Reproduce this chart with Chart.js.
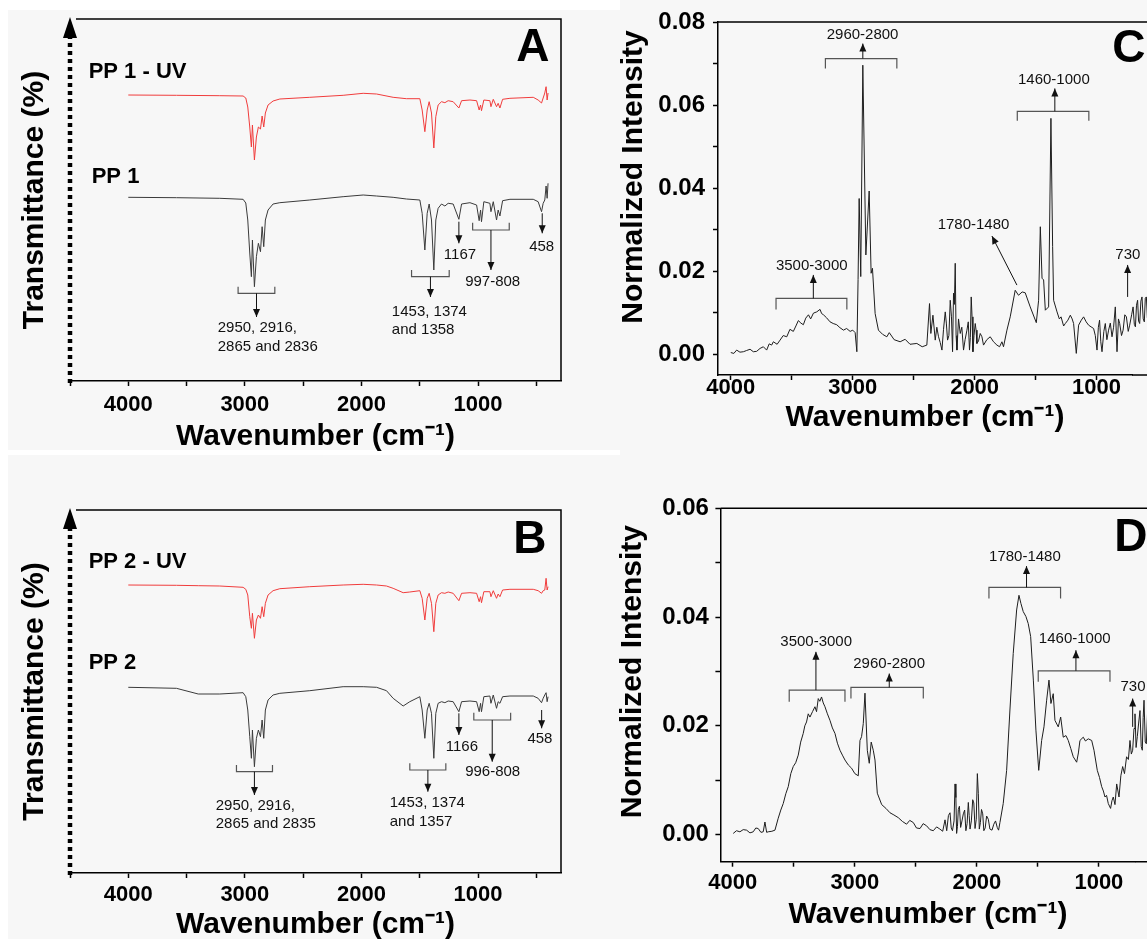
<!DOCTYPE html>
<html>
<head>
<meta charset="utf-8">
<script src="https://cdn.jsdelivr.net/npm/chart.js@4.4.1/dist/chart.umd.min.js"></script>
<style>
  html, body { margin: 0; padding: 0; }
  body {
    width: 1147px; height: 939px; overflow: hidden; position: relative;
    background: #f7f7f7; font-family: 'Liberation Sans', Arial, sans-serif;
  }
  .strip { position: absolute; background: #fff; }
  canvas { position: absolute; }
</style>
</head>
<body>
<div class="strip" style="left:0;top:0;width:8px;height:939px"></div>
<div class="strip" style="left:0;top:0;width:620px;height:10px"></div>
<div class="strip" style="left:0;top:450px;width:620px;height:5px"></div>
<canvas id="chartA" width="600" height="455" style="left:0;top:0"></canvas>
<canvas id="chartB" width="600" height="500" style="left:0;top:455px"></canvas>
<canvas id="chartC" width="547" height="455" style="left:600px;top:0"></canvas>
<canvas id="chartD" width="547" height="500" style="left:600px;top:455px"></canvas>
<script>
// ---- data (wavenumber in cm-1) ----
const waveA = [4000, 3587, 3215, 3015, 2992, 2975, 2958, 2944, 2935, 2918, 2901, 2884, 2866, 2852, 2838, 2824, 2801, 2758, 2700, 2443,
  2157, 1985, 1870, 1728, 1614, 1499, 1479, 1456, 1436, 1419, 1399, 1379, 1362, 1342, 1313, 1284, 1256, 1213, 1164, 1141,
  1069, 1012, 990, 978, 970, 950, 898, 889, 869, 841, 827, 812, 789, 726, 526, 484, 455, 441, 427, 416, 407, 399];
const pp1UV = [286, 285.7, 285.3, 285, 283, 274, 254, 234, 256, 221, 244, 254, 252, 265, 254, 268, 276, 280, 282, 283.7,
  285.7, 287.7, 287, 283.7, 282.3, 282.3, 271, 249.3, 271, 279.3, 268, 233, 264.3, 276, 279.3, 278.3, 280.3, 279.3, 273, 280.3,
  281, 280.3, 271, 276, 270.3, 281, 280.3, 274.3, 281.7, 274.3, 277.7, 273, 281.7, 282.7, 283.7, 281, 278, 283, 288, 294.3, 281, 288];
const pp1 = [183.7, 183.3, 182.7, 181.7, 178, 161, 128, 104.3, 141, 94.3, 124.3, 137.7, 129.3, 154.3, 134.3, 161, 171, 177, 178.3, 181,
  184.3, 186, 185, 183.7, 182, 181, 167.7, 131, 167.7, 177, 161, 111, 161, 172.7, 177, 175, 177.7, 177, 161.7, 177,
  178.3, 176, 160.3, 171, 159.3, 179.3, 177.7, 169.3, 179.3, 161, 171, 165, 180.3, 181.7, 181.7, 179.3, 169.3, 177.7, 181, 195, 182.7, 197.7];

const waveB = [4000, 3587, 3400, 3215, 3015, 2992, 2975, 2958, 2944, 2935, 2918, 2901, 2884, 2866, 2852, 2838, 2824, 2801, 2758, 2700,
  2443, 2157, 1985, 1870, 1785, 1728, 1642, 1585, 1499, 1479, 1456, 1436, 1419, 1399, 1379, 1362, 1342, 1313, 1284, 1256,
  1213, 1164, 1141, 1069, 1012, 990, 978, 970, 950, 898, 889, 869, 841, 827, 812, 789, 726, 526, 484, 455, 441, 427, 416, 407, 399];
const pp2UV = [288, 287.7, 287.3, 287, 285.7, 283.7, 278, 256.3, 244.7, 259.7, 234.7, 253, 258, 254.7, 266.3, 256.3, 269.7, 278, 282.3, 284.3,
  286.3, 288, 288.7, 288, 287, 284.7, 280.3, 281, 282.3, 274.7, 253, 274.7, 279.7, 269.7, 241.3, 269.7, 278, 280.3, 279.7, 281,
  279.7, 272.3, 279.7, 280.3, 279.7, 271.3, 276.3, 270.3, 281.3, 281.3, 276.3, 282.3, 274.7, 279, 276.3, 283, 283.7, 283.7, 282.3, 279.7,
  282.3, 283, 294.7, 283, 286.3];
const pp2 = [185.7, 184.7, 179, 179, 180.3, 176.3, 163, 136.3, 114.7, 143, 106.3, 134.7, 143, 136.3, 153, 134.7, 163, 173, 178, 179.7,
  182.3, 186.3, 186.3, 185.7, 182.3, 174.7, 167, 171.3, 176.3, 163, 134.7, 163, 169.7, 159.7, 114.7, 159.7, 169.7, 171.3, 170.3, 172,
  171.3, 161.3, 171.3, 172, 171.3, 161.3, 169.7, 161.3, 176.3, 177, 169.7, 178, 164.7, 171.3, 169.7, 176.3, 177, 177, 174.7, 170.3,
  174.7, 178, 180.3, 171.3, 176.3];

const waveC = [4000, 3975, 3952, 3925, 3897, 3870, 3842, 3815, 3788, 3760,
  3733, 3706, 3685, 3665, 3651, 3620, 3596, 3570, 3541, 3515,
  3487, 3466, 3446, 3425, 3405, 3385, 3363, 3345, 3322, 3295,
  3268, 3255, 3240, 3215, 3186, 3160, 3131, 3105, 3076, 3050,
  3021, 3000, 2980, 2966, 2956, 2947, 2934, 2917, 2892, 2865,
  2849, 2838, 2816, 2789, 2755, 2720, 2700, 2660, 2611, 2570,
  2530, 2474, 2430, 2392, 2370, 2359, 2342, 2323, 2310, 2296,
  2282, 2268, 2255, 2241, 2232, 2222, 2211, 2200, 2190, 2181,
  2173, 2166, 2159, 2152, 2145, 2132, 2118, 2105, 2091, 2078,
  2063, 2052, 2042, 2035, 2028, 2021, 2014, 2005, 1995, 1988,
  1981, 1968, 1954, 1940, 1927, 1900, 1872, 1845, 1817, 1795,
  1776, 1763, 1735, 1708, 1667, 1640, 1610, 1585, 1544, 1494,
  1475, 1461, 1447, 1434, 1420, 1393, 1374, 1360, 1352, 1324,
  1305, 1291, 1270, 1256, 1235, 1215, 1200, 1188, 1166, 1147,
  1125, 1106, 1085, 1065, 1045, 1024, 1010, 996, 985, 975,
  965, 955, 940, 928, 915, 901, 887, 873, 860, 846,
  832, 820, 810, 795, 782, 768, 755, 740, 728, 712,
  700, 690, 681, 672, 663, 655, 646, 636, 627, 617,
  608, 600, 591, 583, 575, 567, 560];
const intensityC = [0.0004, 0.0002, 0.001, 0.0005, 0.0006, 0.0009, 0.0012, 0.0006, 0.0007, 0.0014,
  0.0018, 0.001, 0.0025, 0.0022, 0.003, 0.0024, 0.0034, 0.0045, 0.0042, 0.006,
  0.0055, 0.0068, 0.0081, 0.0075, 0.0071, 0.0087, 0.0095, 0.0085, 0.0099, 0.0102,
  0.0108, 0.0098, 0.0095, 0.0088, 0.0078, 0.0074, 0.0071, 0.0064, 0.0058, 0.0062,
  0.0055, 0.0058, 0.0052, 0.0006, 0.018, 0.0375, 0.0187, 0.0696, 0.0239, 0.0393,
  0.0195, 0.0207, 0.0098, 0.0058, 0.0048, 0.0042, 0.0052, 0.0035, 0.003, 0.0036,
  0.0024, 0.0026, 0.0018, 0.0022, 0.0122, 0.005, 0.0094, 0.0034, 0.0065, 0.0042,
  0.0028, 0.001, 0.006, 0.0102, 0.0075, 0.0034, 0.0045, 0.013, 0.009, 0.0006,
  0.0147, 0.012, 0.0219, 0.0045, 0.001, 0.0085, 0.005, 0.0065, 0.001, 0.0035,
  0.0058, 0.0078, 0.001, 0.004, 0.0138, 0.009, 0.0006, 0.0045, 0.0074, 0.0058,
  0.0026, 0.0032, 0.005, 0.0042, 0.0022, 0.0035, 0.0042, 0.003, 0.0022, 0.0018,
  0.003, 0.0018, 0.0058, 0.009, 0.0154, 0.0142, 0.015, 0.0148, 0.0114, 0.0076,
  0.013, 0.0307, 0.0183, 0.0179, 0.0106, 0.0114, 0.0568, 0.0259, 0.013, 0.0102,
  0.0085, 0.009, 0.0068, 0.0074, 0.0082, 0.0094, 0.0085, 0.0074, 0.0002, 0.007,
  0.0082, 0.009, 0.0078, 0.007, 0.0066, 0.0062, 0.0045, 0.001, 0.0065, 0.0082,
  0.003, 0.0006, 0.0055, 0.0074, 0.0035, 0.0058, 0.0075, 0.0042, 0.0065, 0.0114,
  0.0006, 0.0085, 0.0074, 0.0045, 0.0058, 0.0095, 0.009, 0.0055, 0.007, 0.0095,
  0.0114, 0.0072, 0.0066, 0.0118, 0.013, 0.008, 0.0074, 0.0128, 0.0138, 0.0085,
  0.0078, 0.0135, 0.0138, 0.0088, 0.0095, 0.014, 0.0135];

const waveD = [3997, 3970, 3942, 3915, 3887, 3860, 3833, 3812, 3792, 3770,
  3751, 3737, 3723, 3710, 3680, 3655, 3628, 3607, 3587, 3566,
  3546, 3525, 3505, 3485, 3464, 3444, 3423, 3410, 3396, 3382,
  3368, 3347, 3327, 3314, 3300, 3287, 3273, 3259, 3245, 3225,
  3204, 3184, 3163, 3143, 3122, 3102, 3081, 3054, 3027, 3000,
  2972, 2958, 2945, 2931, 2917, 2898, 2882, 2866, 2849, 2835,
  2816, 2780, 2745, 2712, 2680, 2644, 2610, 2576, 2550, 2521,
  2495, 2466, 2440, 2412, 2385, 2357, 2330, 2303, 2280, 2261,
  2247, 2233, 2220, 2210, 2200, 2187, 2179, 2172, 2166, 2159,
  2152, 2143, 2133, 2122, 2111, 2100, 2090, 2080, 2070, 2063,
  2056, 2045, 2034, 2025, 2015, 2005, 1996, 1988, 1980, 1971,
  1962, 1952, 1943, 1932, 1920, 1906, 1893, 1876, 1861, 1847,
  1833, 1822, 1811, 1784, 1756, 1729, 1702, 1674, 1655, 1639,
  1620, 1598, 1579, 1559, 1537, 1516, 1493, 1469, 1450, 1428,
  1409, 1393, 1374, 1360, 1333, 1313, 1292, 1270, 1251, 1230,
  1210, 1182, 1168, 1155, 1128, 1110, 1087, 1059, 1040, 1013,
  995, 977, 963, 950, 937, 923, 904, 893, 882, 868,
  854, 835, 820, 805, 790, 773, 758, 745, 734, 723,
  712, 704, 695, 685, 674, 663, 653, 644, 637, 630,
  620, 611, 600, 590, 582, 575, 560];
const intensityD = [0.0002, 0.0007, 0.0005, 0.0009, 0.0008, 0.0003, 0.0005, 0.0012, 0.0011, 0.0004,
  0.0005, 0.0023, 0.0004, 0.0005, 0.0006, 0.0008, 0.003, 0.0045, 0.0057, 0.0075,
  0.0088, 0.0112, 0.0125, 0.0132, 0.0146, 0.017, 0.0186, 0.02, 0.0207, 0.0222,
  0.0216, 0.0226, 0.0235, 0.0226, 0.025, 0.0245, 0.0253, 0.0242, 0.0235, 0.0222,
  0.021, 0.0196, 0.0186, 0.0168, 0.0155, 0.0146, 0.0137, 0.0128, 0.0122, 0.0112,
  0.0108, 0.0173, 0.018, 0.0204, 0.026, 0.0155, 0.0131, 0.017, 0.0155, 0.0137,
  0.0076, 0.0055, 0.0048, 0.004, 0.0036, 0.0031, 0.0024, 0.0019, 0.0026, 0.0022,
  0.0012, 0.0011, 0.002, 0.0016, 0.0009, 0.0007, 0.0014, 0.001, 0.0006, 0.0027,
  0.0007, 0.0035, 0.004, 0.0012, 0.0007, 0.0025, 0.0093, 0.0068, 0.0002, 0.0015,
  0.0046, 0.0052, 0.0013, 0.0025, 0.0038, 0.0045, 0.0007, 0.002, 0.0059, 0.0035,
  0.001, 0.0025, 0.0064, 0.0058, 0.0011, 0.0028, 0.0112, 0.0075, 0.001, 0.0022,
  0.0046, 0.0038, 0.0007, 0.0012, 0.0034, 0.0028, 0.001, 0.0008, 0.0019, 0.0025,
  0.0013, 0.0008, 0.0022, 0.0057, 0.0118, 0.0229, 0.0333, 0.0413, 0.044, 0.0425,
  0.041, 0.0401, 0.0388, 0.0364, 0.0284, 0.0192, 0.0118, 0.0173, 0.0198, 0.0247,
  0.0284, 0.0241, 0.0259, 0.021, 0.0198, 0.0216, 0.0179, 0.0182, 0.0173, 0.0158,
  0.0143, 0.0133, 0.015, 0.0173, 0.0179, 0.0172, 0.0176, 0.0173, 0.0155, 0.0118,
  0.0105, 0.0088, 0.008, 0.0069, 0.0072, 0.0057, 0.0048, 0.0062, 0.0069, 0.0055,
  0.0093, 0.0069, 0.0108, 0.0125, 0.0112, 0.0143, 0.0138, 0.0173, 0.0148, 0.0155,
  0.0195, 0.0222, 0.016, 0.018, 0.0205, 0.0228, 0.0162, 0.0155, 0.0215, 0.0247,
  0.017, 0.0167, 0.023, 0.0215, 0.016, 0.0245, 0.02];

// tick positions and labels
const xTicks = [4500, 4000, 3500, 3000, 2500, 2000, 1500, 1000, 500];
const xTickLabels = [4000, 3000, 2000, 1000];
const yTickLabels = ['0.00', '0.02', '0.04', '0.06', '0.08'];

// ---- annotations, in data units ----
const notes = {
  chartA: {
    brackets: [[3058, 2743, 87.7, 94.3], [1570, 1247, 104.3, 111], [1046, 732, 151, 158.3]],
    arrows: [[2900, 87.7, 2900, 64], [1408, 104.3, 1408, 84], [1164, 159.3, 1164, 137.7], [889, 151, 889, 111], [449, 167.7, 449, 147.7]],
    texts: [[3233, 53, '2950, 2916,', 'left'], [3233, 34, '2865 and 2836', 'left'], [1739, 69, '1453, 1374', 'left'], [1739, 51, 'and 1358', 'left'],
      [1155, 126, '1167', 'center'], [874, 98.7, '997-808', 'center'], [454, 134.3, '458', 'center']],
    names: [[4340, 309, 'PP 1 - UV'], [4314, 204, 'PP 1']],
    letter: [529, 333, 'A']
  },
  chartB: {
    brackets: [[3072, 2763, 101.3, 108], [1585, 1276, 103, 109.7], [1036, 720, 153, 160.3]],
    arrows: [[2918, 101.3, 2918, 78], [1430, 103, 1430, 81.3], [1164, 159.7, 1164, 138], [878, 153, 878, 111.3], [454, 163, 454, 144.7]],
    texts: [[3250, 67, '2950, 2916,', 'left'], [3250, 49, '2865 and 2835', 'left'], [1757, 70.3, '1453, 1374', 'left'], [1757, 51.3, 'and 1357', 'left'],
      [1138, 125.7, '1166', 'center'], [874, 101.3, '996-808', 'center'], [469, 133.7, '458', 'center']],
    names: [[4340, 311.3, 'PP 2 - UV'], [4340, 210.3, 'PP 2']],
    letter: [555, 333, 'B']
  },
  chartC: {
    open: true,
    brackets: [[3224, 2638, 0.0712, 0.0688], [3629, 3048, 0.01345, 0.0108], [1650, 1063, 0.0585, 0.0562]],
    arrows: [[2917, 0.0712, 2917, 0.0748], [3323, 0.01345, 3323, 0.0191], [1342, 0.0585, 1342, 0.064], [1653, 0.01665, 1858, 0.02845], [745, 0.0138, 745, 0.0215]],
    texts: [[2919, 0.0768, '2960-2800', 'center'], [3336, 0.0212, '3500-3000', 'center'], [1350, 0.066, '1460-1000', 'center'],
      [2009, 0.0311, '1780-1480', 'center'], [743, 0.0239, '730', 'center']],
    names: [],
    letter: [735, 0.0734, 'C']
  },
  chartD: {
    open: true,
    brackets: [[3538, 3081, 0.02656, 0.0244], [3032, 2439, 0.02706, 0.025], [1901, 1314, 0.04545, 0.04342], [1497, 909, 0.0301, 0.0281]],
    arrows: [[3319, 0.02656, 3319, 0.0336], [2718, 0.02706, 2718, 0.0296], [1593, 0.04545, 1593, 0.04937], [1188, 0.0301, 1188, 0.0339], [723, 0.0198, 723, 0.025]],
    texts: [[3317, 0.0354, '3500-3000', 'center'], [2719, 0.0313, '2960-2800', 'center'], [1606, 0.0511, '1780-1480', 'center'],
      [1198, 0.0359, '1460-1000', 'center'], [720, 0.0272, '730', 'center']],
    names: [],
    letter: [737, 0.0545, 'D']
  }
};

const FONT = "'Liberation Sans', Arial, sans-serif";
const tickFont = { family: FONT, size: 22, weight: 'bold', lineHeight: 1 };
const yTickFont = { family: FONT, size: 24, weight: 'bold', lineHeight: 1 };
const titleFont = { family: FONT, size: 30, weight: 'bold', lineHeight: 1 };

function arrowHead(ctx, x1, y1, x2, y2) {
  const a = Math.atan2(y2 - y1, x2 - x1), L = 8, W = 3.5;
  ctx.beginPath();
  ctx.moveTo(x2, y2);
  ctx.lineTo(x2 - L * Math.cos(a) + W * Math.sin(a), y2 - L * Math.sin(a) - W * Math.cos(a));
  ctx.lineTo(x2 - L * Math.cos(a) - W * Math.sin(a), y2 - L * Math.sin(a) + W * Math.cos(a));
  ctx.closePath();
  ctx.fill();
}

// frame, dotted axis with arrow, brackets and labels
const annotate = {
  id: 'annotate',
  afterDraw(chart) {
    const n = notes[chart.canvas.id];
    if (!n) return;
    const { ctx, chartArea: a } = chart;
    const X = v => chart.scales.x.getPixelForValue(v);
    const Y = v => chart.scales.y.getPixelForValue(v);
    ctx.save();
    ctx.strokeStyle = '#000';
    ctx.fillStyle = '#000';
    ctx.lineWidth = 1.5;
    ctx.beginPath();
    if (n.open) {
      ctx.moveTo(a.left, a.top); ctx.lineTo(chart.width, a.top);
      ctx.moveTo(a.right, a.bottom); ctx.lineTo(chart.width, a.bottom);
      ctx.stroke();
    } else {
      ctx.moveTo(a.left + 6, a.top); ctx.lineTo(a.right, a.top); ctx.lineTo(a.right, a.bottom);
      ctx.stroke();
      // dotted transmittance axis
      ctx.lineWidth = 4.5;
      ctx.setLineDash([4, 4]);
      ctx.beginPath();
      ctx.moveTo(a.left, a.bottom + 2); ctx.lineTo(a.left, a.top + 18);
      ctx.stroke();
      ctx.setLineDash([]);
      ctx.beginPath();
      ctx.moveTo(a.left, a.top - 2);
      ctx.lineTo(a.left - 7, a.top + 19);
      ctx.lineTo(a.left + 7, a.top + 19);
      ctx.closePath();
      ctx.fill();
    }

    ctx.strokeStyle = '#555';
    ctx.lineWidth = 1.2;
    n.brackets.forEach(([x1, x2, y, tip]) => {
      ctx.beginPath();
      ctx.moveTo(X(x1), Y(tip)); ctx.lineTo(X(x1), Y(y));
      ctx.lineTo(X(x2), Y(y)); ctx.lineTo(X(x2), Y(tip));
      ctx.stroke();
    });

    ctx.strokeStyle = '#111';
    ctx.fillStyle = '#111';
    ctx.lineWidth = 1;
    n.arrows.forEach(([x1, y1, x2, y2]) => {
      ctx.beginPath();
      ctx.moveTo(X(x1), Y(y1)); ctx.lineTo(X(x2), Y(y2));
      ctx.stroke();
      arrowHead(ctx, X(x1), Y(y1), X(x2), Y(y2));
    });

    ctx.textBaseline = 'middle';
    ctx.font = '15px ' + FONT;
    n.texts.forEach(([x, y, t, align]) => {
      ctx.textAlign = align;
      ctx.fillText(t, X(x), Y(y));
    });
    ctx.fillStyle = '#000';
    ctx.font = 'bold 22px ' + FONT;
    ctx.textAlign = 'left';
    n.names.forEach(([x, y, t]) => ctx.fillText(t, X(x), Y(y)));
    ctx.font = 'bold 46px ' + FONT;
    ctx.textAlign = 'center';
    ctx.fillText(n.letter[2], X(n.letter[0]), Y(n.letter[1]));
    ctx.restore();
  }
};

function toPoints(wave, values) {
  return wave.map((w, i) => ({ x: w, y: values[i] }));
}

function spectrumChart(id, cfg) {
  const xAxis = {
    type: 'linear', reverse: true, min: cfg.xMin, max: cfg.xMax,
    afterFit: s => { s.height = cfg.xHeight; },
    afterBuildTicks: s => { s.ticks = xTicks.filter(v => v >= s.min && v <= s.max).map(v => ({ value: v })); },
    ticks: {
      autoSkip: false, maxRotation: 0, padding: cfg.xPad, color: '#000', font: tickFont,
      callback: v => xTickLabels.includes(v) ? String(v) : ''
    },
    grid: { drawOnChartArea: false, tickLength: 5, tickWidth: 1.5, tickColor: '#000' },
    border: { color: '#000', width: 1.5 },
    title: { display: true, text: 'Wavenumber (cm\u207B\u00B9)', color: '#000', font: titleFont, padding: 0 }
  };
  let yAxis;
  if (cfg.transmittance) {
    yAxis = {
      min: 0, max: cfg.yMax,
      afterFit: s => { s.width = cfg.yWidth; },
      ticks: { display: false },
      grid: { display: false },
      border: { display: false },
      title: { display: true, text: 'Transmittance (%)', color: '#000', font: titleFont, padding: 0 }
    };
  } else {
    yAxis = {
      min: -0.005, max: cfg.yMax,
      afterFit: s => { s.width = cfg.yWidth; },
      afterBuildTicks: s => {
        const t = [];
        for (let k = 0; k / 100 <= s.max + 1e-9; k++) t.push({ value: k / 100 });
        s.ticks = t;
      },
      ticks: {
        padding: cfg.yPad, color: '#000', font: yTickFont,
        callback: v => {
          const k = Math.round(v * 100);
          return k % 2 === 0 ? yTickLabels[k / 2] : '';
        }
      },
      grid: { drawOnChartArea: false, tickLength: 5, tickWidth: 1.5, tickColor: '#000' },
      border: { color: '#000', width: 1.5 },
      title: { display: true, text: cfg.yTitle, align: 'end', color: '#000', font: titleFont, padding: 0 }
    };
  }
  return new Chart(document.getElementById(id), {
    type: 'line',
    data: {
      datasets: cfg.series.map(s => ({
        data: toPoints(s.wave, s.values),
        borderColor: s.color, borderWidth: 1, pointRadius: 0, tension: 0,
        clip: cfg.clip
      }))
    },
    options: {
      responsive: false, animation: false, devicePixelRatio: 1,
      layout: { padding: cfg.padding },
      plugins: { legend: { display: false }, tooltip: { enabled: false } },
      scales: { x: xAxis, y: yAxis }
    },
    plugins: [annotate]
  });
}

spectrumChart('chartA', {
  transmittance: true, xMin: 288, xMax: 4500, yMax: 362, xHeight: 71, yWidth: 50.5, xPad: 8,
  padding: { left: 19.5, top: 19, right: 39, bottom: 3 },
  series: [
    { wave: waveA, values: pp1UV, color: '#f03c3c' },
    { wave: waveA, values: pp1, color: '#3a3a3a' }
  ]
});

spectrumChart('chartB', {
  transmittance: true, xMin: 288, xMax: 4500, yMax: 363, xHeight: 67, yWidth: 50.5, xPad: 6,
  padding: { left: 19.5, top: 55, right: 39, bottom: 15 },
  series: [
    { wave: waveB, values: pp2UV, color: '#f03c3c' },
    { wave: waveB, values: pp2, color: '#3a3a3a' }
  ]
});

spectrumChart('chartC', {
  xMin: 709, xMax: 4105, yMax: 0.08, xHeight: 58, yWidth: 99, xPad: -3, yPad: 8, clip: false,
  yTitle: 'Normalized Intensity ',
  padding: { left: 19, top: 22, right: 15, bottom: 22 },
  series: [{ wave: waveC, values: intensityC, color: '#1e1e1e' }]
});

spectrumChart('chartD', {
  xMin: 699, xMax: 4102, yMax: 0.06, xHeight: 68.3, yWidth: 102.4, xPad: 5.6, yPad: 6.5, clip: false,
  yTitle: 'Normalized Intensity  ',
  padding: { left: 18, top: 53.3, right: 11.4, bottom: 25 },
  series: [{ wave: waveD, values: intensityD, color: '#1e1e1e' }]
});
</script>
</body>
</html>
